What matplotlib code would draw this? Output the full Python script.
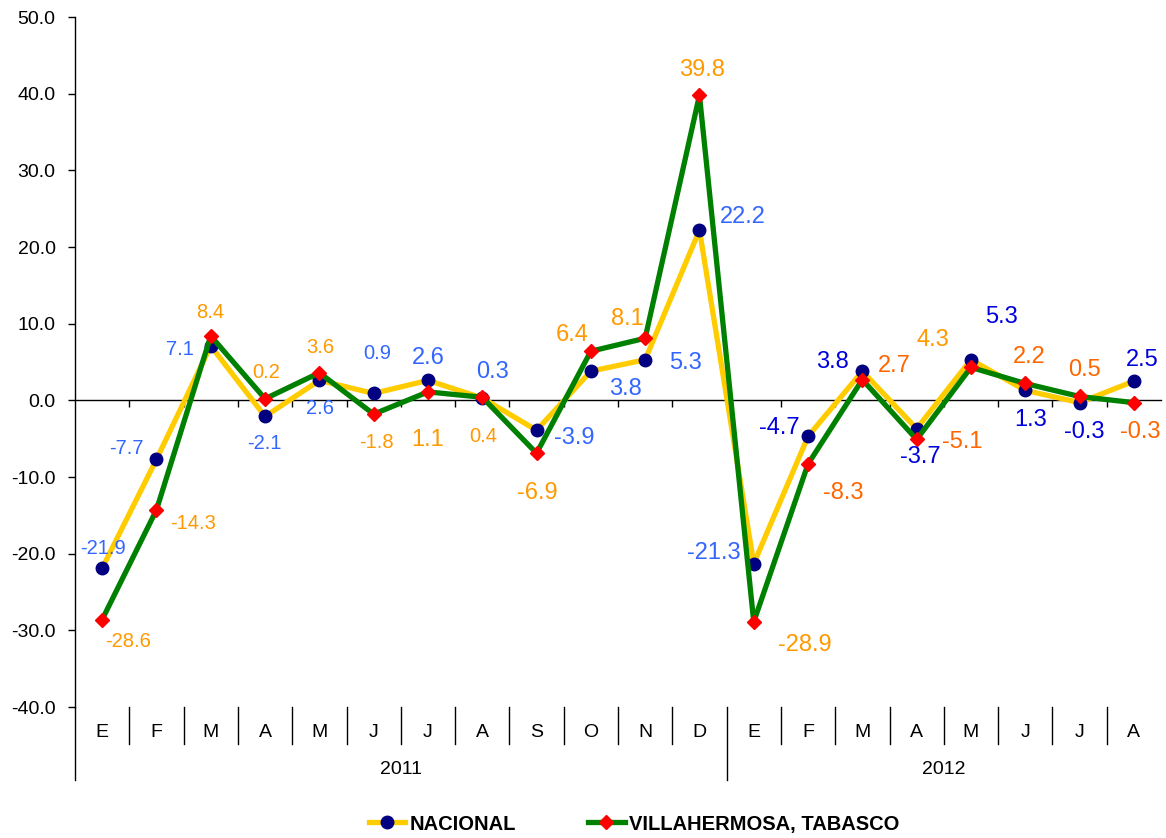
import matplotlib
matplotlib.use("Agg")
import matplotlib.pyplot as plt
import matplotlib.transforms as mtransforms
from matplotlib import font_manager
import numpy as np

# ---------------- data ----------------
months = ["E", "F", "M", "A", "M", "J", "J", "A", "S", "O", "N", "D",
          "E", "F", "M", "A", "M", "J", "J", "A"]
years = ["2011", "2012"]
year_lengths = [12, 8]
nacional = [-21.9, -7.7, 7.1, -2.1, 2.6, 0.9, 2.6, 0.3, -3.9, 3.8, 5.3, 22.2,
            -21.3, -4.7, 3.8, -3.7, 5.3, 1.3, -0.3, 2.5]
villahermosa = [-28.6, -14.3, 8.4, 0.2, 3.6, -1.8, 1.1, 0.4, -6.9, 6.4, 8.1, 39.8,
                -28.9, -8.3, 2.7, -5.1, 4.3, 2.2, 0.5, -0.3]
series_names = ["NACIONAL", "VILLAHERMOSA, TABASCO"]
yticks = [50, 40, 30, 20, 10, 0, -10, -20, -30, -40]

# ---------------- label layout (pixel offsets, sizes, colours) ----------------
nac_off = [(1, 20), (-30, 11), (-31, -4), (-1, -27), (1, -28), (4, 40), (0, 22),
           (10, 26), (38, -8), (35, -18), (40, -3), (43, 13), (-40, 11),
           (-29, 8), (-30, 9), (4, -28), (31, 43), (5, -30), (5, -29), (8, 21)]
vil_off = [(26, -22), (37, -14), (-1, 23), (1, 26), (1, 25), (3, -28), (0, -48),
           (1, -39), (1, -40), (-19, 16), (-18, 19), (3, 25), (51, -23),
           (35, -29), (32, 14), (46, -3), (-38, 27), (4, 26), (5, 27), (6, -29)]
nac_big = [False] * 6 + [True] * 14
vil_big = [False] * 6 + [True, False] + [True] * 12
nac_col = ["#3366FF"] * 13 + ["#0000DD"] * 7
vil_col = ["#FF9900"] * 13 + ["#FF6600", "#FF6600", "#FF6600", "#FF9900",
                               "#FF6600", "#FF6600", "#FF6600"]

names = {f.name for f in font_manager.fontManager.ttflist}
base_font = "Liberation Sans" if "Liberation Sans" in names else "DejaVu Sans"
plt.rcParams["font.family"] = [base_font, "DejaVu Sans"]

W, H = 1166, 838
fig = plt.figure(figsize=(W / 100, H / 100), dpi=100)
ax = fig.add_axes([75 / W, (H - 707) / H, 1086 / W, 690 / H])

x = np.arange(len(months))
l1, = ax.plot(x, nacional, color="#FFCC00", lw=3.8, marker="o", ms=9,
              mfc="#000080", mec="#000080", zorder=3, label=series_names[0])
l2, = ax.plot(x, villahermosa, color="#008000", lw=3.8, marker="D", ms=7.5,
              mfc="#FF0000", mec="#FF0000", zorder=4, label=series_names[1])

ax.set_xlim(-0.5, len(months) - 0.5)
ax.set_ylim(-40, 50)
ax.set_yticks(yticks)
ax.set_yticklabels([f"{v:.1f}" for v in yticks], fontsize=14)
ax.tick_params(axis="y", direction="out", length=5, width=1, pad=9)

ax.spines["top"].set_visible(False)
ax.spines["right"].set_visible(False)
ax.spines["bottom"].set_position(("data", 0))
ax.spines["bottom"].set_linewidth(1)
ax.spines["left"].set_linewidth(1)
ax.set_xticks(np.arange(0.5, len(months) - 1, 1.0))
ax.tick_params(axis="x", direction="out", length=5, width=1, labelbottom=False)

# data labels
for i in range(len(months)):
    ax.annotate(f"{nacional[i]:.1f}", (x[i], nacional[i]), xytext=nac_off[i],
                textcoords="offset pixels", ha="center", va="center",
                fontsize=17 if nac_big[i] else 14.5, color=nac_col[i], zorder=6)
    ax.annotate(f"{villahermosa[i]:.1f}", (x[i], villahermosa[i]), xytext=vil_off[i],
                textcoords="offset pixels", ha="center", va="center",
                fontsize=17 if vil_big[i] else 14.5, color=vil_col[i], zorder=6)

# category axis below plot
trans = mtransforms.blended_transform_factory(ax.transData, ax.transAxes)
for i, m in enumerate(months):
    ax.text(i, -0.037, m, transform=trans, ha="center", va="center",
            fontsize=14, clip_on=False)
year_starts = np.cumsum([0] + year_lengths)
for b in range(1, len(months)):
    long = b in year_starts
    ax.plot([b - 0.5, b - 0.5], [0, -0.106 if long else -0.054], transform=trans,
            color="black", lw=1, clip_on=False)
ax.plot([-0.5, -0.5], [0, -0.106], transform=trans, color="black", lw=1, clip_on=False)
for k, yr in enumerate(years):
    c = (year_starts[k] + year_starts[k + 1] - 1) / 2
    ax.text(c, -0.091, yr, transform=trans, ha="center", va="center",
            fontsize=14, clip_on=False)

fig.legend(handles=[l1, l2], loc="center", bbox_to_anchor=(634 / W, 1 - 824 / H),
           ncol=2, frameon=False, handlelength=1.8, handletextpad=0.2,
           columnspacing=3.6, borderaxespad=0,
           prop={"family": base_font, "weight": "bold", "size": 14.5})

fig.savefig("out.png", dpi=100)
